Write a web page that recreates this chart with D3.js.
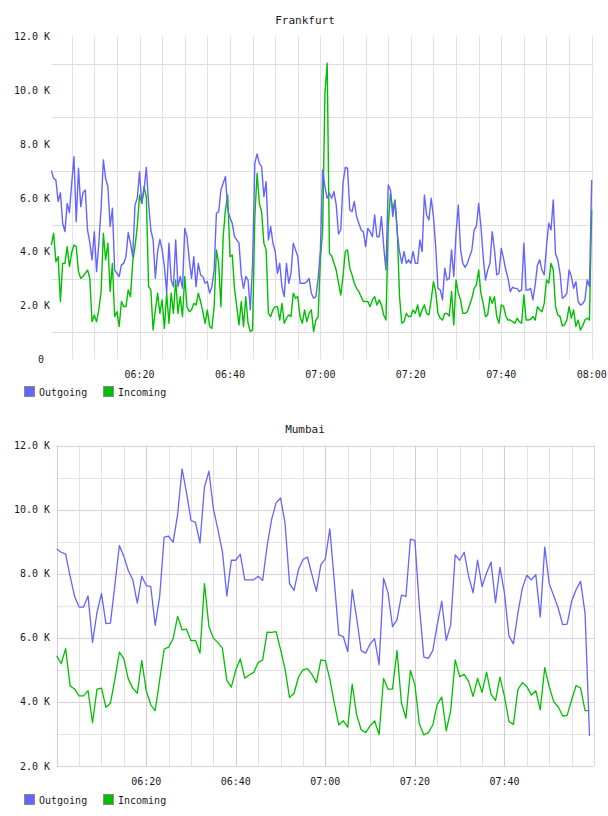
<!DOCTYPE html>
<html><head><meta charset="utf-8">
<script src="https://cdn.jsdelivr.net/npm/d3@7"></script>
<style>
html,body{margin:0;padding:0;background:#fff;}
svg{display:block;}
text{font-family:"DejaVu Sans Mono",monospace;fill:#1a1a1a;}
</style></head><body>
<svg id="c" width="608" height="816"></svg>
<script>
// ---------- DATA (values in thousands) ----------
const seriesNames = ["Outgoing", "Incoming"];
const frankfurtStart = "06:00:30";   // first sample
const frankfurtStepSec = 30;         // sampling interval
const frankfurtOutgoing = [
7.02,6.73,6.67,5.87,6.20,5.06,4.75,5.80,5.46,6.55,7.54,5.12,7.11,5.68,6.20,6.30,4.81,4.34,3.70,4.75,
3.26,4.32,5.62,7.42,6.73,6.42,4.94,5.62,3.32,3.20,3.08,3.51,3.57,3.82,4.71,4.32,3.82,5.74,5.99,6.98,
5.80,6.30,7.14,5.80,4.81,4.44,3.01,4.01,4.46,4.07,3.45,2.46,4.32,2.95,2.70,4.44,2.70,3.08,2.64,4.87,
4.56,3.70,3.01,3.82,2.70,3.57,3.14,3.08,2.83,2.89,2.46,2.70,3.32,5.43,5.49,6.30,6.55,6.80,5.56,5.27,
5.06,4.56,4.44,4.32,
3.14,2.64,3.08,2.95,1.84,3.57,7.29,7.64,7.29,7.17,6.05,6.61,4.44,4.94,4.32,4.01,3.20,3.57,2.70,2.33,
3.57,2.83,3.20,4.32,4.07,3.82,2.83,2.83,2.83,2.89,3.01,2.46,2.27,2.33,3.01,4.07,7.04,6.42,5.99,6.18,
5.99,6.24,5.74,4.66,4.81,6.55,7.14,7.11,5.56,5.49,5.87,5.31,5.06,4.81,4.75,4.19,4.87,4.75,4.56,5.37,
4.56,4.56,5.31,4.19,3.32,6.49,6.30,5.31,5.87,4.69,4.01,3.57,4.01,3.57,3.70,3.57,4.01,3.57,3.57,4.44,
4.01,6.11,5.37,5.18,
5.99,5.31,4.19,2.64,2.58,2.21,3.39,2.95,3.01,4.07,3.08,4.69,5.74,4.07,3.57,3.42,3.57,3.82,4.07,4.81,
4.94,5.80,4.94,3.82,2.95,3.32,3.57,4.75,4.07,3.14,3.20,4.13,3.76,3.32,3.01,2.52,2.68,2.64,2.64,2.52,
2.58,4.32,2.58,2.58,2.64,2.21,2.77,3.51,3.70,3.32,3.14,4.19,5.06,4.81,5.93,3.92,3.70,3.20,2.27,2.33,
2.46,3.32,3.08,2.64,2.89,2.15,2.02,2.06,2.21,2.95,2.70,6.67
];
const frankfurtIncoming = [
4.25,4.69,3.63,3.82,2.15,3.57,3.57,4.19,3.45,3.97,4.25,4.19,3.26,3.01,3.08,3.20,3.32,3.01,1.40,1.65,
1.40,1.84,2.52,4.69,3.70,4.32,2.52,3.57,1.59,1.77,1.22,2.15,1.96,1.96,2.58,2.33,3.63,4.19,4.94,6.11,
5.80,6.42,6.05,2.70,2.58,1.09,1.84,2.46,1.71,2.21,1.15,2.46,1.34,2.46,1.71,2.95,1.71,2.33,1.59,3.08,
1.96,1.77,1.84,2.08,2.02,2.46,2.15,1.77,1.34,1.84,1.22,1.15,1.96,4.07,3.57,1.96,4.56,5.56,6.11,3.82,
3.88,2.64,1.96,1.28,
2.15,1.22,2.33,1.34,1.03,1.09,5.31,6.92,5.80,5.49,4.32,4.07,1.71,1.59,1.84,1.96,1.96,1.46,2.08,1.34,
1.53,1.65,1.59,2.46,2.27,2.33,1.59,1.34,1.84,1.40,1.71,1.84,1.03,1.46,1.59,3.70,4.81,9.90,11.01,3.94,
3.84,3.57,3.32,2.83,2.39,3.08,4.01,4.07,3.39,3.14,2.83,2.64,2.52,2.33,2.15,2.15,2.15,1.96,2.21,2.33,
2.02,2.21,2.02,1.65,1.46,4.94,6.18,5.56,5.93,4.81,2.33,1.34,1.40,1.71,1.59,1.59,1.84,1.71,2.02,1.59,
1.84,2.02,1.71,1.65,
2.21,2.89,2.52,1.71,1.53,1.46,1.71,1.71,1.61,2.52,1.28,2.95,2.46,2.21,1.71,1.71,1.77,2.02,2.27,2.64,
2.77,3.32,2.46,2.08,1.59,1.65,2.33,2.08,2.33,1.59,1.34,2.02,1.98,1.61,1.46,1.46,1.40,1.34,1.53,1.40,
1.34,2.39,1.46,1.46,1.49,1.59,1.46,1.96,1.84,1.77,2.08,2.95,2.83,3.57,3.32,1.96,1.65,1.59,1.24,1.28,
1.46,1.96,1.53,1.84,1.22,1.46,1.09,1.24,1.46,1.53,1.46,5.56
];
const mumbaiStart = "06:00:00";
const mumbaiStepSec = 60;
const mumbaiOutgoing = [
8.77,8.67,8.61,7.92,7.29,6.96,6.96,7.31,5.86,6.79,7.38,6.44,6.46,7.66,8.88,8.54,8.09,7.81,7.08,7.92,
7.63,7.60,6.39,7.29,9.14,9.17,8.98,9.84,11.27,10.52,9.66,9.60,8.96,10.70,11.20,10.02,9.38,8.70,7.31,8.42,
8.42,8.61,7.81,7.81,7.81,7.92,7.79,8.88,9.69,10.21,10.36,9.58,7.69,7.48,8.13,8.44,8.52,7.97,7.45,8.28,
8.46,9.40,7.76,6.09,6.04,5.57,7.50,6.61,5.60,5.52,5.81,5.97,5.16,7.86,7.40,6.35,6.56,7.33,7.29,9.08,
9.04,6.98,5.40,5.36,5.60,6.41,7.14,5.92,6.41,8.59,8.42,8.67,7.92,7.40,8.42,7.60,8.02,8.36,7.10,8.20,
7.40,6.06,5.81,6.77,7.55,7.95,7.81,7.97,6.65,8.83,7.69,7.31,6.93,6.41,6.43,7.14,7.50,7.76,6.77,2.94
];
const mumbaiIncoming = [
5.44,5.19,5.66,4.50,4.40,4.19,4.19,4.35,3.35,4.40,4.43,3.83,3.96,4.71,5.55,5.34,4.71,4.43,4.27,5.29,
4.35,3.91,3.73,4.69,5.65,5.71,5.97,6.67,6.25,6.27,5.91,5.92,5.52,7.69,6.35,5.99,5.85,5.68,4.67,4.46,
5.00,5.34,4.74,4.84,4.92,5.23,5.31,6.18,6.17,6.19,5.63,5.02,4.14,4.27,4.77,5.00,5.04,4.86,4.60,5.31,
5.29,4.71,3.96,3.28,3.41,3.21,4.55,3.59,3.13,3.04,3.25,3.41,2.98,4.73,4.40,4.40,5.60,3.96,3.49,4.98,
4.53,3.31,2.97,3.04,3.28,3.93,4.15,3.10,3.73,5.31,4.79,4.86,4.64,4.17,4.73,4.30,4.93,4.24,4.04,4.77,
4.17,3.39,3.30,4.38,4.60,4.48,4.21,4.35,3.75,5.07,4.48,4.01,3.85,3.56,3.58,4.06,4.51,4.43,3.73,3.73
];
const frankfurtYTicks = [0, 2, 4, 6, 8, 10, 12];
const frankfurtYGrid = [1, 3, 5, 7, 9, 11];
const mumbaiYTicks = [2, 4, 6, 8, 10, 12];
const timeLabelsFr = ["06:20", "06:40", "07:00", "07:20", "07:40", "08:00"];
const timeLabelsMu = ["06:20", "06:40", "07:00", "07:20", "07:40"];

// ---------- HELPERS ----------
const parseT = d3.timeParse("%H:%M:%S");
const parseHM = d3.timeParse("%H:%M");
const t0 = parseHM("06:00"), t8 = parseHM("08:00");
const COL_OUT = "#6464ff", COL_IN = "#00c000";
const fmtY = v => v === 0 ? "0" : v.toFixed(1) + " K";
const svg = d3.select("#c");

function series(start, stepSec, vals) {
  const s = parseT(start);
  return vals.map((v, i) => ({ t: new Date(s.getTime() + i * stepSec * 1000), v }));
}

function legend(y) {
  const g = svg.append("g");
  [[24, 39, COL_OUT, seriesNames[0]], [103, 118, COL_IN, seriesNames[1]]].forEach(([sx, tx, c, name]) => {
    g.append("rect").attr("x", sx + 0.5).attr("y", y - 5.5).attr("width", 10).attr("height", 10)
      .attr("fill", c).attr("stroke", "#8a8a8a").attr("stroke-width", 1);
    g.append("text").attr("x", tx).attr("y", y).attr("dominant-baseline", "central")
      .attr("font-size", 10).text(name);
  });
}

function drawLines(x, y, out, inc, w) {
  const line = d3.line().x(d => x(d.t)).y(d => y(d.v)).curve(d3.curveLinear);
  svg.append("path").datum(inc).attr("d", line).attr("fill", "none")
    .attr("stroke", COL_IN).attr("stroke-width", w).attr("stroke-linejoin", "round");
  svg.append("path").datum(out).attr("d", line).attr("fill", "none")
    .attr("stroke", COL_OUT).attr("stroke-width", w).attr("stroke-linejoin", "round");
}

// ---------- FRANKFURT ----------
{
  const x = d3.scaleTime().domain([t0, t8]).range([49.1, 591.7]);
  const y = d3.scaleLinear().domain([0, 12]).range([359.3, 36.7]);
  const g = svg.append("g");
  const vt = x.ticks(d3.timeMinute.every(5)).filter(t => t > t0);
  g.selectAll(".vg").data(vt).enter().append("line")
    .attr("x1", d => Math.round(x(d)) + 0.5).attr("x2", d => Math.round(x(d)) + 0.5)
    .attr("y1", y(12)).attr("y2", y(0)).attr("stroke", "#e2e2e2");
  g.selectAll(".hg").data(frankfurtYGrid).enter().append("line")
    .attr("x1", 51.5).attr("x2", 593.5)
    .attr("y1", d => Math.round(y(d)) + 0.5).attr("y2", d => Math.round(y(d)) + 0.5)
    .attr("stroke", "#dedede");
  g.selectAll(".yl").data(frankfurtYTicks).enter().append("text")
    .attr("x", d => d === 0 ? 44 : 50).attr("y", d => y(d)).attr("text-anchor", "end")
    .attr("dominant-baseline", "central").attr("font-size", 10).text(fmtY);
  g.selectAll(".xl").data(timeLabelsFr).enter().append("text")
    .attr("x", d => x(parseHM(d))).attr("y", 374).attr("text-anchor", "middle")
    .attr("dominant-baseline", "central").attr("font-size", 10).text(d => d);
  svg.append("text").attr("x", 305).attr("y", 20).attr("text-anchor", "middle")
    .attr("dominant-baseline", "central").attr("font-size", 11).text("Frankfurt");
  drawLines(x, y, series(frankfurtStart, frankfurtStepSec, frankfurtOutgoing),
    series(frankfurtStart, frankfurtStepSec, frankfurtIncoming), 1.4);
  legend(392);
}

// ---------- MUMBAI ----------
{
  const x = d3.scaleTime().domain([t0, t8]).range([56.7, 594]);
  const y = d3.scaleLinear().domain([2, 12]).range([766, 445.5]);
  const g = svg.append("g");
  const minor = x.ticks(d3.timeMinute.every(5)).filter(t => t.getMinutes() % 20 !== 0);
  const major = x.ticks(d3.timeMinute.every(20));
  const px = v => Math.round(v) + 0.5;
  g.selectAll(".vm").data(minor).enter().append("line")
    .attr("x1", d => px(x(d))).attr("x2", d => px(x(d))).attr("y1", y(12)).attr("y2", y(2))
    .attr("stroke", "#e3e3e3");
  const oddK = d3.range(3, 12, 2);
  g.selectAll(".hm").data(oddK).enter().append("line")
    .attr("x1", x(t0)).attr("x2", x(t8)).attr("y1", d => px(y(d))).attr("y2", d => px(y(d)))
    .attr("stroke", d => d === 7 ? "#ededed" : "#e3e3e3").attr("stroke-width", d => d === 7 ? 2 : 1);
  g.selectAll(".hM").data(mumbaiYTicks).enter().append("line")
    .attr("x1", x(t0)).attr("x2", x(t8)).attr("y1", d => px(y(d))).attr("y2", d => px(y(d)))
    .attr("stroke", "#e2cce2");
  g.selectAll(".vM").data(major).enter().append("line")
    .attr("x1", d => px(x(d))).attr("x2", d => px(x(d))).attr("y1", y(12)).attr("y2", y(2))
    .attr("stroke", "#dcc4dc");
  g.append("line").attr("x1", px(x(t8))).attr("x2", px(x(t8))).attr("y1", y(12)).attr("y2", y(2))
    .attr("stroke", "#e6d2e6");
  g.selectAll(".yl").data(mumbaiYTicks).enter().append("text")
    .attr("x", 50).attr("y", d => y(d)).attr("text-anchor", "end")
    .attr("dominant-baseline", "central").attr("font-size", 10).text(fmtY);
  g.selectAll(".xl").data(timeLabelsMu).enter().append("text")
    .attr("x", d => x(parseHM(d))).attr("y", 781).attr("text-anchor", "middle")
    .attr("dominant-baseline", "central").attr("font-size", 10).text(d => d);
  svg.append("text").attr("x", 305).attr("y", 429).attr("text-anchor", "middle")
    .attr("dominant-baseline", "central").attr("font-size", 11).text("Mumbai");
  drawLines(x, y, series(mumbaiStart, mumbaiStepSec, mumbaiOutgoing),
    series(mumbaiStart, mumbaiStepSec, mumbaiIncoming), 1.3);
  legend(800);
}
</script>
</body></html>
